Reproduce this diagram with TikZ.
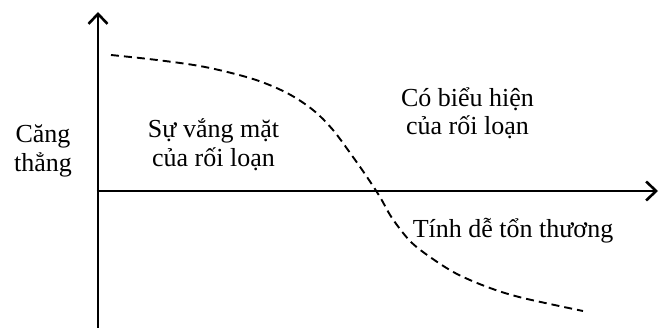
\documentclass[tikz,border=0pt]{standalone}
\usepackage{fontspec}
\setmainfont{Liberation Serif}
\usetikzlibrary{arrows.meta}
\begin{document}
\begin{tikzpicture}[x=1pt,y=-1pt,
  axis/.style={line width=2.8pt,-{Straight Barb[length=10pt,width=19pt,line width=2.6pt]}},
  curve/.style={line width=1.9pt,dash pattern=on 8pt off 5pt},
  lbl/.style={anchor=base,inner sep=0pt,font=\fontsize{26}{30}\selectfont}]
\useasboundingbox (0,0) rectangle (666,328);
\coordinate (bot) at (98,328);
\coordinate (top) at (98,12);
\coordinate (org) at (96.6,191);
\coordinate (xend) at (658,191);
\draw[axis] (bot) -- (top);
\draw[axis] (org) -- (xend);
\draw[curve] plot[smooth,tension=0.55] coordinates {(111,55) (157,60) (205,67) (253,79) (287,93) (313,110) (333,130) (353,157) (367,177) (380,197) (392,218) (410,241) (430,257) (457,274) (490,288) (523,298) (583,311)};
\node[lbl] (y1) at (43,143) {Căng};
\node[lbl] (y2) at (43,172) {thẳng};
\node[lbl] (a1) at (213.5,138) {Sự vắng mặt};
\node[lbl] (a2) at (213.5,167) {của rối loạn};
\node[lbl] (b1) at (467.5,107) {Có biểu hiện};
\node[lbl] (b2) at (467.5,135) {của rối loạn};
\node[lbl] (x1) at (513,238) {Tính dễ tổn thương};
\end{tikzpicture}
\end{document}
